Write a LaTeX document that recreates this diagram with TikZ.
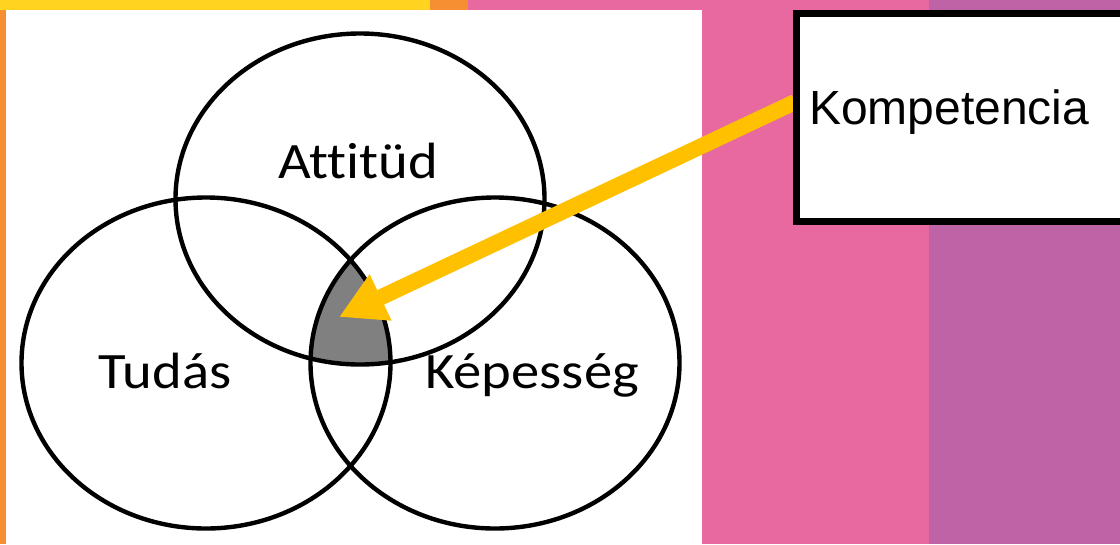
\documentclass[tikz,border=0pt]{standalone}
\usepackage{fontspec}
\setmainfont{Carlito}[Ligatures={NoCommon}]
\newfontfamily\arialfont{Liberation Sans}
\usetikzlibrary{arrows.meta}
\definecolor{bgpink}{RGB}{232,104,160}
\definecolor{bgpurple}{RGB}{190,100,166}
\definecolor{bgyellow}{RGB}{255,211,32}
\definecolor{bgorange}{RGB}{245,143,50}
\definecolor{arrowyellow}{RGB}{255,192,0}
\definecolor{midgray}{RGB}{128,128,128}
\tikzset{
  venn/.style={draw=black, line width=4.4pt},
  vennlabel/.style={anchor=base, inner sep=0pt, font=\fontsize{51}{60}\selectfont},
  pointer/.style={draw=arrowyellow, line width=16pt, -{Triangle[length=46pt,width=48pt]}},
  kbox/.style={draw=black, fill=white, line width=7pt, anchor=north west, minimum width=400pt, minimum height=208pt, inner sep=0pt},
  klabel/.style={anchor=base west, inner sep=0pt, font=\arialfont\fontsize{48}{56}\selectfont}
}
\begin{document}
\begin{tikzpicture}[x=1pt,y=-1pt]
\useasboundingbox (0,0) rectangle (1120,544);
% background
\fill[bgpink] (0,0) rectangle (929,544);
\fill[bgpurple] (929,0) rectangle (1120,544);
\fill[bgyellow] (0,0) rectangle (430,10);
\fill[bgorange] (430,0) rectangle (468,10);
\fill[bgorange] (0,10) rectangle (5.5,544);
\fill[white] (5.5,10) rectangle (702,544);
% centre intersection
\begin{scope}
  \clip (360,199) ellipse [x radius=184.5, y radius=165.5];
  \clip (206,363) ellipse [x radius=184.5, y radius=165.5];
  \fill[midgray] (495,363) ellipse [x radius=184.5, y radius=165.5];
\end{scope}
% circles
\draw[venn] (360,199) ellipse [x radius=184.5, y radius=165.5];
\draw[venn] (206,363) ellipse [x radius=184.5, y radius=165.5];
\draw[venn] (495,363) ellipse [x radius=184.5, y radius=165.5];
% labels
\node[vennlabel] (att) at (358,178) {\scalebox{1.11}[1]{Attitüd}};
\node[vennlabel] (tud) at (165,388) {\scalebox{1.11}[1]{Tudás}};
\node[vennlabel] (kep) at (532,388) {\scalebox{1.11}[1]{Képesség}};
% arrow
\coordinate (astart) at (795,102);
\coordinate (atip) at (339,317);
\draw[pointer] (astart) -- (atip);
% box
\node[kbox] (box) at (792.5,9.5) {};
\node[klabel] (komp) at (809,124) {Kompetencia};
\end{tikzpicture}
\end{document}
